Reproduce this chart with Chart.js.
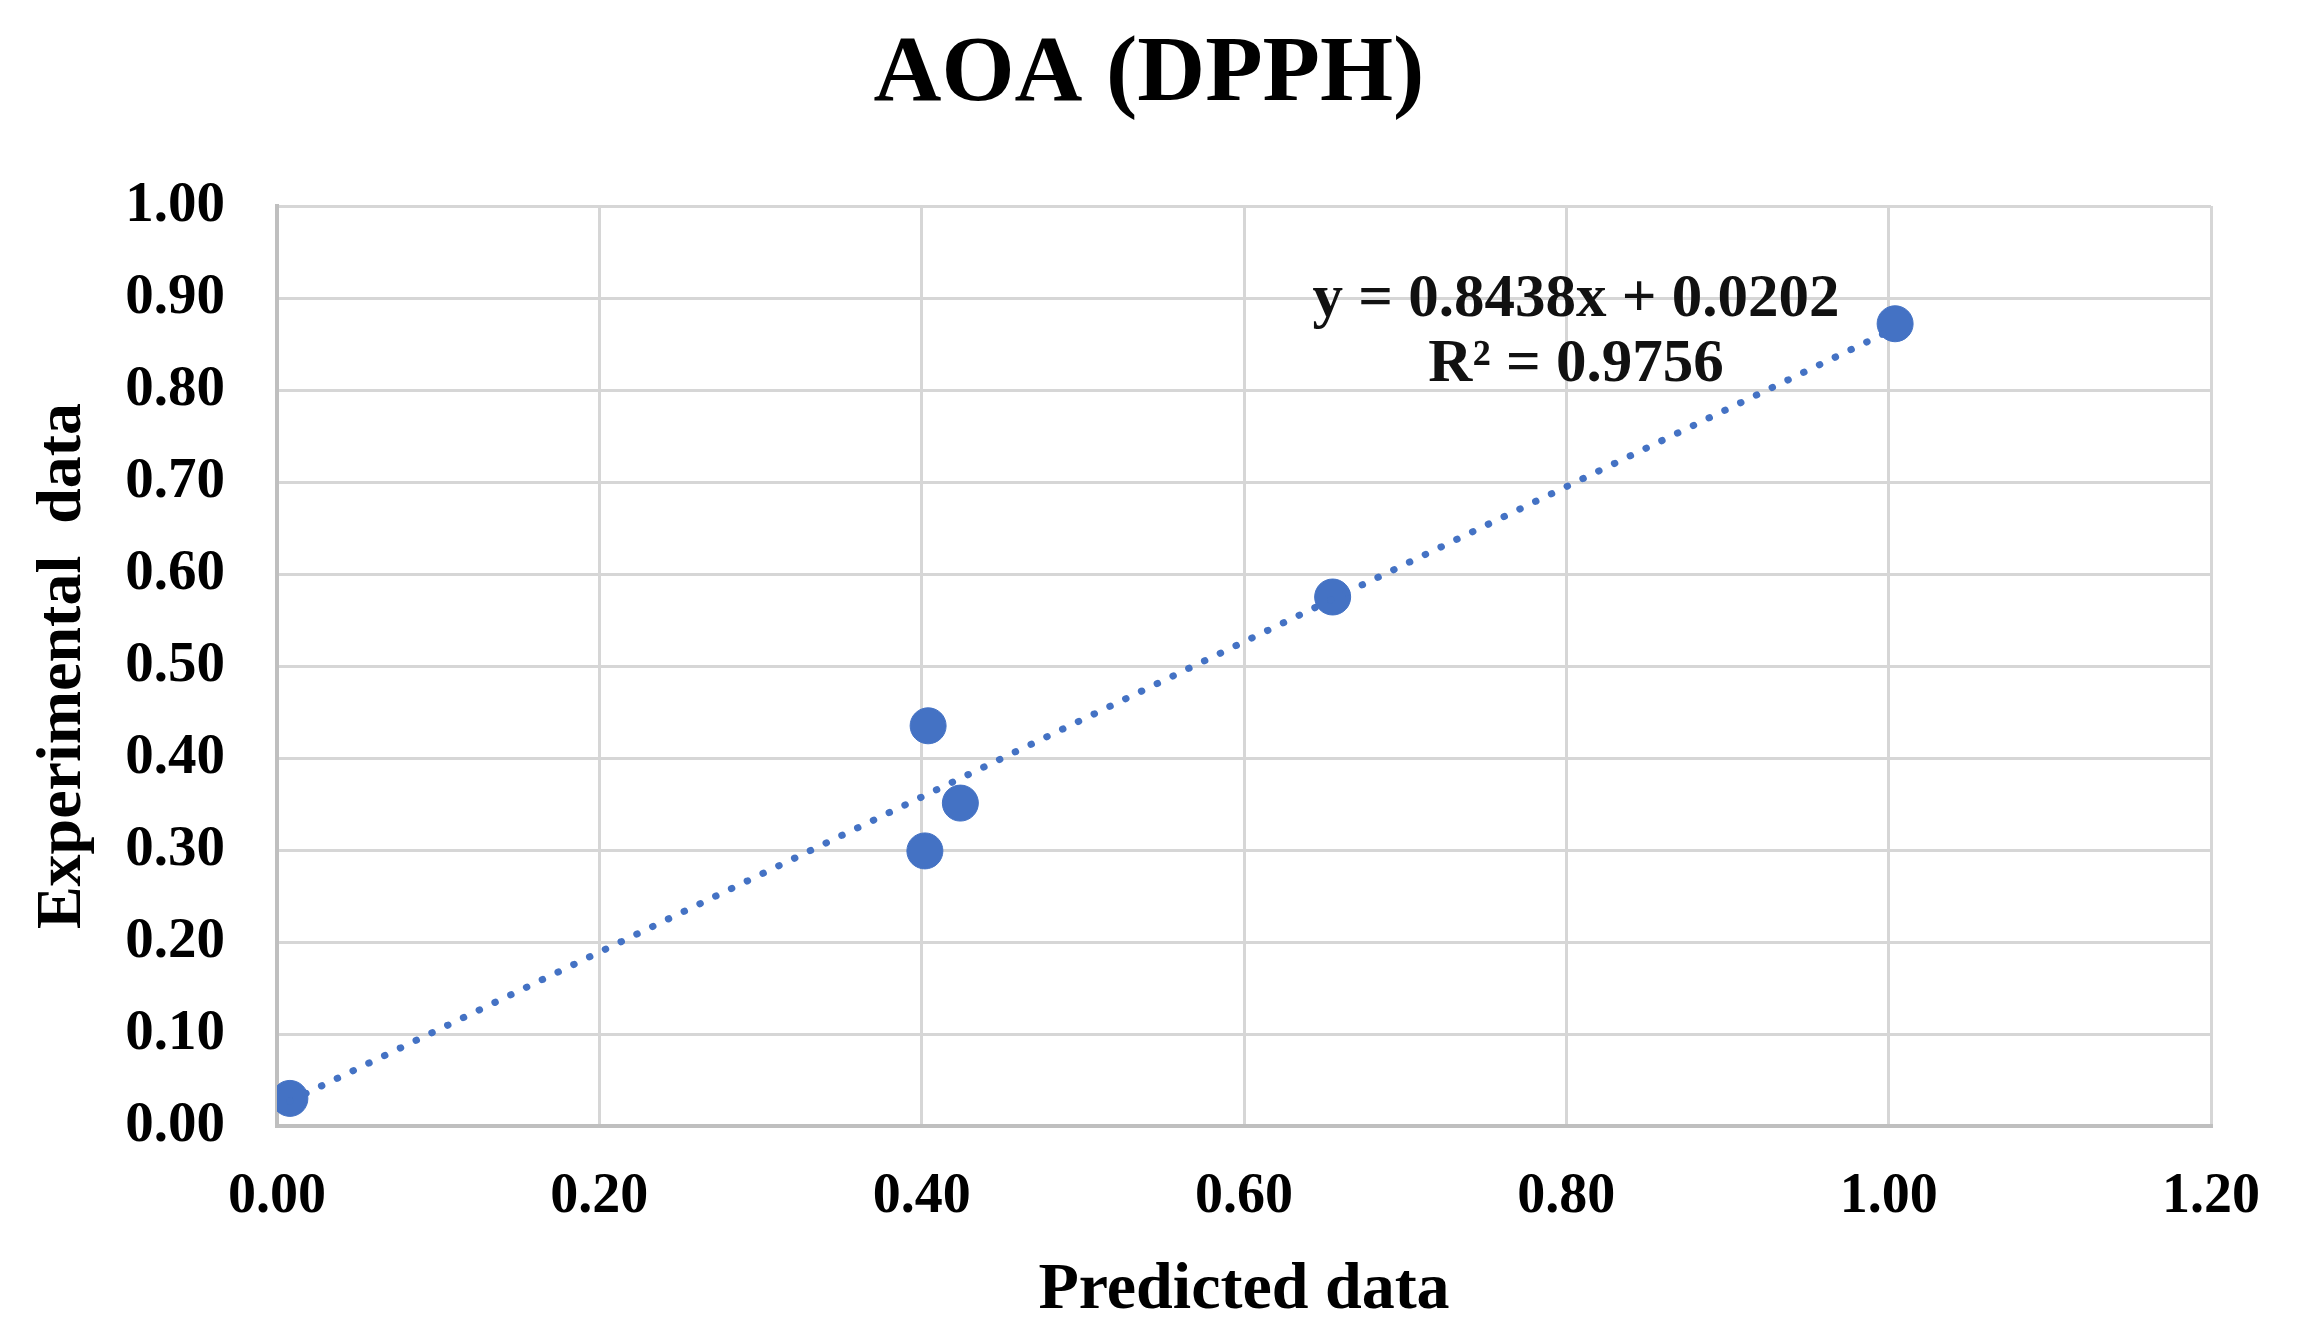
<!DOCTYPE html>
<html>
<head>
<meta charset="utf-8">
<script src="https://cdn.jsdelivr.net/npm/chart.js@4.4.1/dist/chart.umd.min.js"></script>
<style>
    html, body { margin: 0; padding: 0; background: #fff; }
    #wrap { width: 2298px; height: 1341px; }
</style>
</head>
<body>
<div id="wrap"><canvas id="aoaChart" width="2298" height="1341"></canvas></div>
<script>
// values
const predicted = [0.008, 0.404, 0.424, 0.402, 0.655, 1.004];
const experimental = [0.030, 0.435, 0.351, 0.299, 0.575, 0.872];

// linear trendline, ends as drawn in the picture
const trendX = [0.008, 1.004];
const trendY = [0.027, 0.867];

const xTicks = [0, 0.2, 0.4, 0.6, 0.8, 1.0, 1.2];
const yTicks = [0, 0.1, 0.2, 0.3, 0.4, 0.5, 0.6, 0.7, 0.8, 0.9, 1.0];

const chartTitle = "AOA (DPPH)";
const equationText = ["y = 0.8438x + 0.0202", "R\u00B2 = 0.9756"];

const FONT = "'Liberation Serif', 'Times New Roman', serif";
const BLUE = "#4472C4";

// title centred on the whole canvas (built-in one would ignore the right padding)
const pageTitle = {
    id: 'pageTitle',
    afterDraw(chart, args, opts) {
        const { ctx, width } = chart;
        ctx.save();
        ctx.font = `bold ${opts.size}px ${FONT}`;
        ctx.fillStyle = "#000";
        ctx.textAlign = "center";
        ctx.textBaseline = "middle";
        ctx.fillText(opts.text, width / 2, opts.y);
        ctx.restore();
    }
};

// draws the trendline label in data coordinates
const equationLabel = {
    id: 'equationLabel',
    afterDatasetsDraw(chart, args, opts) {
        const { ctx, scales } = chart;
        ctx.save();
        ctx.font = `bold ${opts.size}px ${FONT}`;
        ctx.fillStyle = "#111";
        ctx.textAlign = "center";
        ctx.textBaseline = "middle";
        opts.lines.forEach((line, i) => {
            ctx.fillText(line,
                scales.x.getPixelForValue(opts.at[i][0]),
                scales.y.getPixelForValue(opts.at[i][1]));
        });
        ctx.restore();
    }
};

new Chart(document.getElementById('aoaChart'), {
    type: 'scatter',
    data: {
        datasets: [
            {
                label: "Trend",
                type: 'line',
                data: trendX.map((x, i) => ({ x: x, y: trendY[i] })),
                borderColor: BLUE,
                borderWidth: 7,
                borderDash: [0.5, 17],
                borderCapStyle: 'round',
                pointRadius: 0,
                fill: false
            },
            {
                label: chartTitle,
                data: predicted.map((x, i) => ({ x: x, y: experimental[i] })),
                backgroundColor: BLUE,
                borderColor: BLUE,
                pointRadius: 18,
                pointHoverRadius: 18
            }
        ]
    },
    options: {
        responsive: false,
        animation: false,
        layout: { padding: { top: 206, right: 62, left: 0, bottom: 0 } },
        plugins: {
            legend: { display: false },
            tooltip: { enabled: false },
            title: { display: false },
            pageTitle: { text: chartTitle, size: 94, y: 76 },
            equationLabel: {
                lines: equationText,
                at: [[0.806, 0.898], [0.806, 0.827]],
                size: 61
            }
        },
        scales: {
            x: {
                type: 'linear',
                min: 0,
                max: 1.2,
                afterBuildTicks: s => { s.ticks = xTicks.map(v => ({ value: v })); },
                afterFit: s => { s.height = 215; },
                ticks: {
                    color: "#000",
                    padding: 38,
                    font: { family: FONT, size: 56, weight: 'bold' },
                    callback: v => v.toFixed(2)
                },
                grid: { color: "#d6d6d6", lineWidth: 3, drawTicks: false },
                border: { color: "#bfbfbf", width: 4 },
                title: {
                    display: true,
                    text: "Predicted data",
                    color: "#000",
                    font: { family: FONT, size: 66, weight: 'bold' },
                    padding: { top: 0, bottom: 10 }
                }
            },
            y: {
                type: 'linear',
                min: 0,
                max: 1.0,
                afterBuildTicks: s => { s.ticks = yTicks.map(v => ({ value: v })); },
                afterFit: s => { s.width = 277; },
                ticks: {
                    color: "#000",
                    padding: 52,
                    font: { family: FONT, size: 57, weight: 'bold' },
                    callback: v => v.toFixed(2)
                },
                grid: { color: "#d6d6d6", lineWidth: 3, drawTicks: false },
                border: { color: "#bfbfbf", width: 4 },
                title: {
                    display: true,
                    text: "Experimental  data",
                    color: "#000",
                    font: { family: FONT, size: 64, weight: 'bold' },
                    padding: { top: 25, bottom: 0 }
                }
            }
        }
    },
    plugins: [pageTitle, equationLabel]
});
</script>
</body>
</html>
